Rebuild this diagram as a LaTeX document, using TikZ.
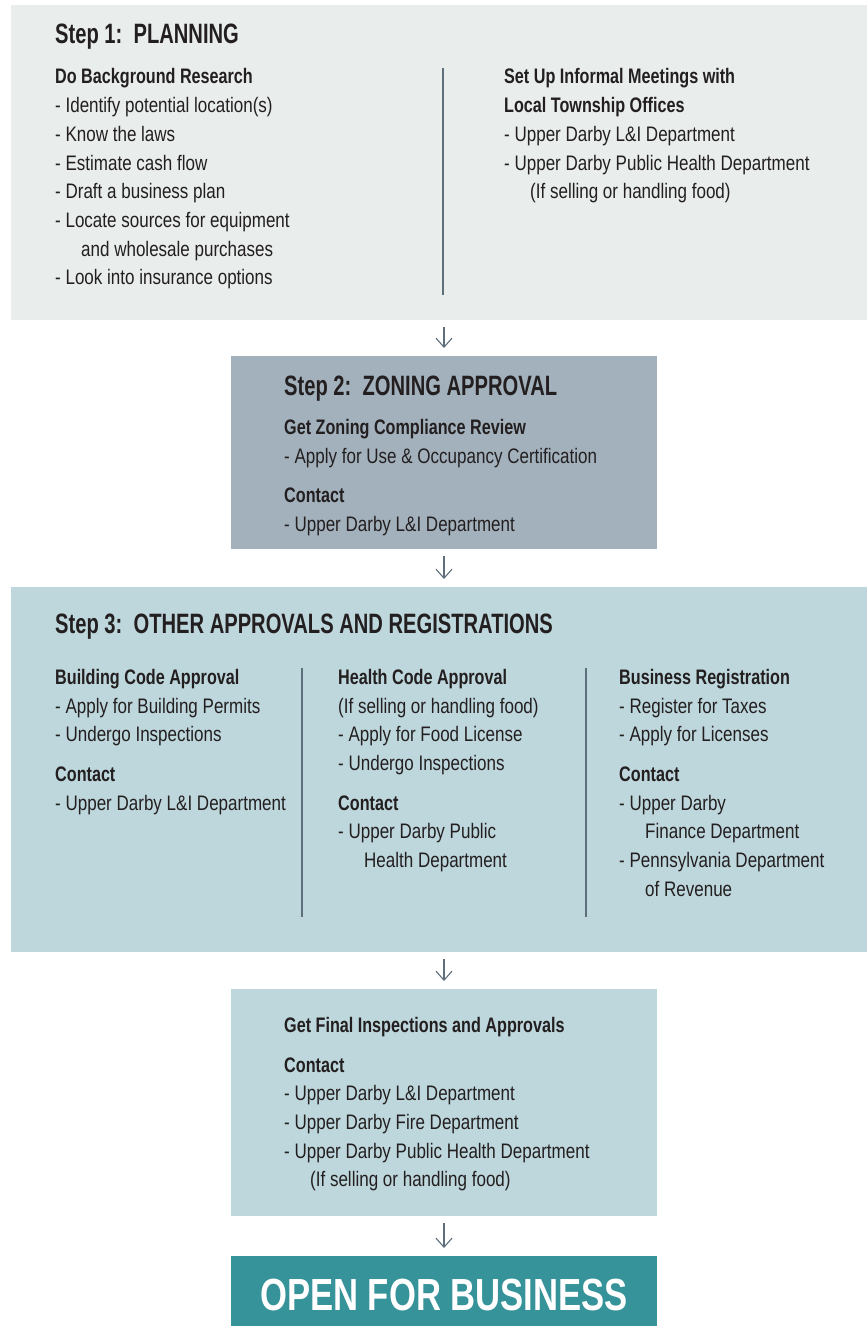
\documentclass[tikz,border=0pt]{standalone}
\usepackage{fontspec}
\setmainfont{Liberation Sans}[FakeStretch=0.81]
\newfontfamily\headfam{Liberation Sans Bold}[FakeStretch=0.77]
\newfontfamily\titlefam{Liberation Sans Bold}[FakeStretch=0.72]
\usetikzlibrary{arrows.meta}
\definecolor{ink}{HTML}{231F20}
\definecolor{planfill}{HTML}{E9EDEC}
\definecolor{zonefill}{HTML}{A3B1BC}
\definecolor{otherfill}{HTML}{BED7DC}
\definecolor{openfill}{HTML}{36939A}
\definecolor{linecol}{HTML}{5E6E7A}
\newcommand{\hdg}[1]{{\headfam #1}}
\newcommand{\ind}{\hspace*{26pt}}
\begin{document}
\begin{tikzpicture}[x=1pt, y=-1pt,
  box/.style = {anchor=north west, inner sep=0pt, outer sep=0pt},
  title/.style = {anchor=base west, inner sep=0pt, text=ink, font=\titlefam\fontsize{28}{34}\selectfont},
  body/.style = {anchor=north west, inner sep=0pt, align=left, text=ink, font=\fontsize{21}{28.7}\selectfont, execute at begin node=\rule{0pt}{16pt}},
  flow/.style = {draw=linecol, line width=1.1pt, -{Straight Barb[length=9pt,width=16pt]}},
  divider/.style = {draw=linecol, line width=1.2pt}]
\useasboundingbox (0,0) rectangle (867,1326);
% boxes
\node[box, fill=planfill, minimum width=856pt, minimum height=315pt] (plan) at (11,5) {};
\node[box, fill=zonefill, minimum width=426pt, minimum height=193pt] (zoning) at (231,356) {};
\node[box, fill=otherfill, minimum width=856pt, minimum height=365pt] (other) at (11,587) {};
\node[box, fill=otherfill, minimum width=426pt, minimum height=227pt] (final) at (231,989) {};
\node[box, fill=openfill, minimum width=426pt, minimum height=70pt] (open) at (231,1256) {};
% step 1
\node[title] (t1) at (55,43) {Step 1:\ \ PLANNING};
\node[body] (research) at (55,68.5) {\hdg{Do Background Research}\\
- Identify potential location(s)\\
- Know the laws\\
- Estimate cash flow\\
- Draft a business plan\\
- Locate sources for equipment\\
\ind and wholesale purchases\\
- Look into insurance options};
\node[body] (meetings) at (504,68.5) {\hdg{Set Up Informal Meetings with}\\
\hdg{Local Township Offices}\\
- Upper Darby L\&I Department\\
- Upper Darby Public Health Department\\
\ind (If selling or handling food)};
\draw[divider] (443,68) -- (443,295);
% step 2
\node[title] (t2) at (284,395) {Step 2:\ \ ZONING APPROVAL};
\node[body] (review) at (284,419) {\hdg{Get Zoning Compliance Review}\\
- Apply for Use \& Occupancy Certification\\[11pt]
\hdg{Contact}\\
- Upper Darby L\&I Department};
% step 3
\node[title] (t3) at (55,633) {Step 3:\ \ OTHER APPROVALS AND REGISTRATIONS};
\node[body] (building) at (55,669) {\hdg{Building Code Approval}\\
- Apply for Building Permits\\
- Undergo Inspections\\[11pt]
\hdg{Contact}\\
- Upper Darby L\&I Department};
\node[body] (health) at (338,669) {\hdg{Health Code Approval}\\
(If selling or handling food)\\
- Apply for Food License\\
- Undergo Inspections\\[11pt]
\hdg{Contact}\\
- Upper Darby Public\\
\ind Health Department};
\node[body] (business) at (619,669) {\hdg{Business Registration}\\
- Register for Taxes\\
- Apply for Licenses\\[11pt]
\hdg{Contact}\\
- Upper Darby\\
\ind Finance Department\\
- Pennsylvania Department\\
\ind of Revenue};
\draw[divider] (302,668) -- (302,917);
\draw[divider] (586,668) -- (586,917);
% final
\node[body] (inspect) at (284,1017) {\hdg{Get Final Inspections and Approvals}\\[11pt]
\hdg{Contact}\\
- Upper Darby L\&I Department\\
- Upper Darby Fire Department\\
- Upper Darby Public Health Department\\
\ind (If selling or handling food)};
\node[anchor=base, inner sep=0pt, text=white, font=\headfam\fontsize{45}{50}\selectfont] (opentxt) at (444,1310) {OPEN FOR BUSINESS};
% arrows
\coordinate (a1) at (plan.south -| zoning.north);
\coordinate (a3) at (other.south -| final.north);
\draw[flow] ([yshift=-7pt]a1) -- ([yshift=8pt]zoning.north);
\draw[flow] ([yshift=-7pt]zoning.south) -- ([yshift=8pt]other.north -| zoning.north);
\draw[flow] ([yshift=-7pt]a3) -- ([yshift=8pt]final.north);
\draw[flow] ([yshift=-7pt]final.south) -- ([yshift=8pt]open.north);
\end{tikzpicture}
\end{document}
